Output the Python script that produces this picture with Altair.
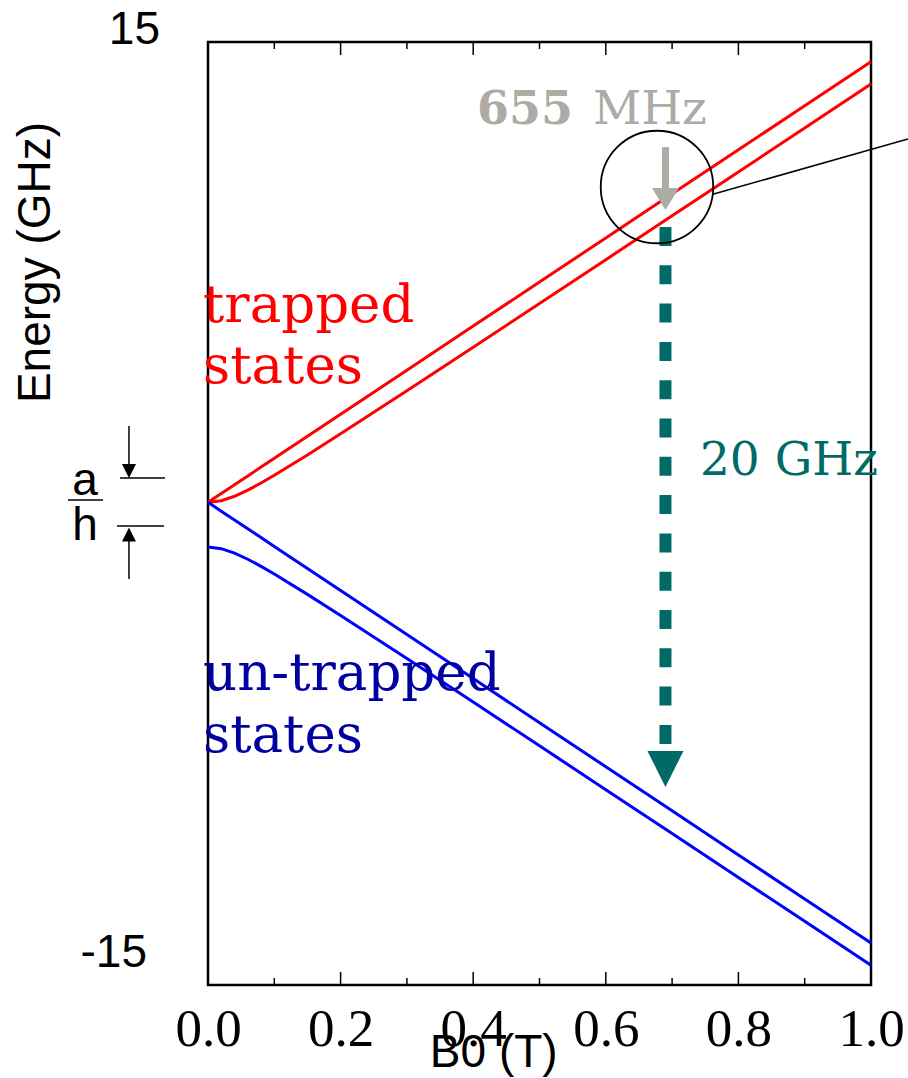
import altair as alt
import pandas as pd

# ---- data ----
B_T = [0, 0.02, 0.04, 0.06, 0.08, 0.1, 0.15, 0.2, 0.3, 0.4, 0.5, 0.6, 0.7, 0.8, 0.9, 1.0]
trapped_upper = [0.355, 0.635, 0.916, 1.196, 1.477, 1.757, 2.458, 3.159, 4.561, 5.963,
                 7.365, 8.767, 10.169, 11.571, 12.973, 14.375]
trapped_lower = [0.355, 0.408, 0.549, 0.745, 0.971, 1.215, 1.862, 2.534, 3.905, 5.290,
                 6.681, 8.075, 9.471, 10.868, 12.265, 13.663]
untrapped_upper = [0.355, 0.075, -0.206, -0.486, -0.767, -1.047, -1.748, -2.449, -3.851, -5.253,
                   -6.655, -8.057, -9.459, -10.861, -12.263, -13.665]
untrapped_lower = [-1.065, -1.118, -1.259, -1.455, -1.681, -1.925, -2.572, -3.244, -4.615, -6.000,
                   -7.391, -8.785, -10.181, -11.578, -12.975, -14.373]
x_tick_labels = [0.0, 0.2, 0.4, 0.6, 0.8, 1.0]
minor_ticks = [0.1, 0.3, 0.5, 0.7, 0.9]

RED = "#ff0000"
BLUE = "#0000ff"
NAVY = "#0000a0"
TEAL = "#006b66"
GRAY = "#aeaaa6"

xs = alt.Scale(domain=[0, 1], nice=False, zero=False)
ys = alt.Scale(domain=[-15, 15], nice=False, zero=False)
xaxis = alt.Axis(values=x_tick_labels, format=".1f", labelFont="Liberation Serif",
                 labelFontSize=53, labelColor="black", labelPadding=18, ticks=False,
                 tickSize=0, domain=False, grid=False, title=None, labelFlush=False,
                 labelOverlap=False)
X = alt.X("B:Q", scale=xs, axis=xaxis)
Y = alt.Y("E:Q", scale=ys, axis=None)

rows = []
for name, vals, col in [("tu", trapped_upper, RED), ("tl", trapped_lower, RED),
                        ("uu", untrapped_upper, BLUE), ("ul", untrapped_lower, BLUE)]:
    for b, e in zip(B_T, vals):
        rows.append({"B": b, "E": e, "series": name, "col": col})
lines_df = pd.DataFrame(rows)

lines = alt.Chart(lines_df).mark_line(strokeWidth=3, clip=False).encode(
    x=X, y=Y, detail="series:N", color=alt.Color("col:N", scale=None),
    order=alt.Order("B:Q"))


def rule(b1, e1, b2, e2, color="black", width=1.5, dash=None):
    df = pd.DataFrame([{"B": b1, "E": e1, "B2": b2, "E2": e2}])
    kw = dict(color=color, strokeWidth=width, strokeCap="butt")
    if dash is not None:
        kw["strokeDash"] = dash
    return alt.Chart(df).mark_rule(**kw).encode(x=X, y=Y, x2="B2:Q", y2="E2:Q")


def text(b, e, txt, size, color="black", font="DejaVu Serif", weight="normal",
         align="left", baseline="alphabetic", angle=0):
    df = pd.DataFrame([{"B": b, "E": e, "t": txt}])
    return alt.Chart(df).mark_text(fontSize=size, color=color, font=font, fontWeight=weight,
                                   align=align, baseline=baseline, angle=angle).encode(
        x=X, y=Y, text="t:N")


def symbol(b, e, shape, size, fill=None, stroke=None, width=1.5):
    df = pd.DataFrame([{"B": b, "E": e}])
    kw = dict(shape=shape, size=size, opacity=1)
    if fill is not None:
        kw.update(filled=True, fill=fill, strokeWidth=0)
    else:
        kw.update(filled=False, stroke=stroke, strokeWidth=width, fillOpacity=0)
    return alt.Chart(df).mark_point(**kw).encode(x=X, y=Y)


# ticks (inward)
tick_rows = []
for t in x_tick_labels:
    tick_rows.append({"B": t, "E": -15, "E2": -14.586})
    tick_rows.append({"B": t, "E": 15, "E2": 14.586})
for t in minor_ticks:
    tick_rows.append({"B": t, "E": -15, "E2": -14.777})
    tick_rows.append({"B": t, "E": 15, "E2": 14.777})
ticks = alt.Chart(pd.DataFrame(tick_rows)).mark_rule(color="black", strokeWidth=1.5).encode(
    x=X, y=Y, y2="E2:Q")

layers = [ticks, lines]

# 20 GHz transition arrow (dashed teal)
layers.append(rule(0.69, 9.115, 0.69, -7.366, TEAL, 12, [19, 19.3]))
layers.append(symbol(0.69, -8.128, "M-1,-1L1,-1L0,1Z", 1296, fill=TEAL))
# 655 MHz gray arrow
layers.append(rule(0.69, 11.657, 0.69, 10.292, GRAY, 7))
layers.append(symbol(0.69, 10.006, "M-1,-0.815L1,-0.815L0,0.815Z", 729, fill=GRAY))
# circle and pointer line
layers.append(symbol(0.6772, 10.387, "circle", 12656, stroke="black", width=1.8))
layers.append(rule(0.7614, 10.155, 1.0558, 11.914, "black", 1.5))

# a/h bracket on the left
layers.append(rule(-0.1192, 2.784, -0.1192, 1.543, "black", 1.5))
layers.append(symbol(-0.1192, 1.352, "M-1,-1L1,-1L0,1Z", 196, fill="black"))
layers.append(rule(-0.1327, 1.129, -0.0649, 1.129, "black", 1.5))
layers.append(rule(-0.1373, -0.398, -0.0664, -0.398, "black", 1.5))
layers.append(symbol(-0.1192, -0.668, "M-1,1L1,1L0,-1Z", 196, fill="black"))
layers.append(rule(-0.1192, -0.875, -0.1192, -2.084, "black", 1.5))
layers.append(rule(-0.2112, 0.4295, -0.1584, 0.4295, "black", 1.5))
layers.append(text(-0.1855, 0.589, "a", 46, font="Liberation Sans", align="center"))
layers.append(text(-0.1855, -0.843, "h", 46, font="Liberation Sans", align="center"))

# y labels and axis titles
layers.append(text(-0.0724, 14.95, "15", 46, font="Liberation Sans", align="right"))
layers.append(text(-0.092, -14.43, "-15", 46, font="Liberation Sans", align="right"))
layers.append(text(-0.2594, 7.985, "Energy (GHz)", 46, font="Liberation Sans",
                   align="center", baseline="middle", angle=270))
layers.append(text(0.431, -17.61, "B0 (T)", 46, font="Liberation Sans", align="center"))

# state labels
layers.append(text(-0.0075, 6.09, "trapped", 53, color=RED))
layers.append(text(-0.0075, 4.152, "states", 53, color=RED))
layers.append(text(-0.0075, -5.615, "un-trapped", 53, color=NAVY))
layers.append(text(-0.0075, -7.588, "states", 53, color=NAVY))

# transition labels
layers.append(text(0.4057, 12.407, "655", 46, color=GRAY, weight="bold"))
layers.append(text(0.5807, 12.407, "MHz", 47, color=GRAY))
layers.append(text(0.742, 1.225, "20 GHz", 47, color=TEAL))

chart = alt.layer(*layers).properties(
    width=663, height=943,
    padding={"left": 208, "top": 42, "right": 37, "bottom": 93},
    autosize=alt.AutoSizeParams(type="none"),
).configure_view(stroke="black", strokeWidth=2.5)

chart.save("out.html", embed_options={"renderer": "svg", "actions": False})
